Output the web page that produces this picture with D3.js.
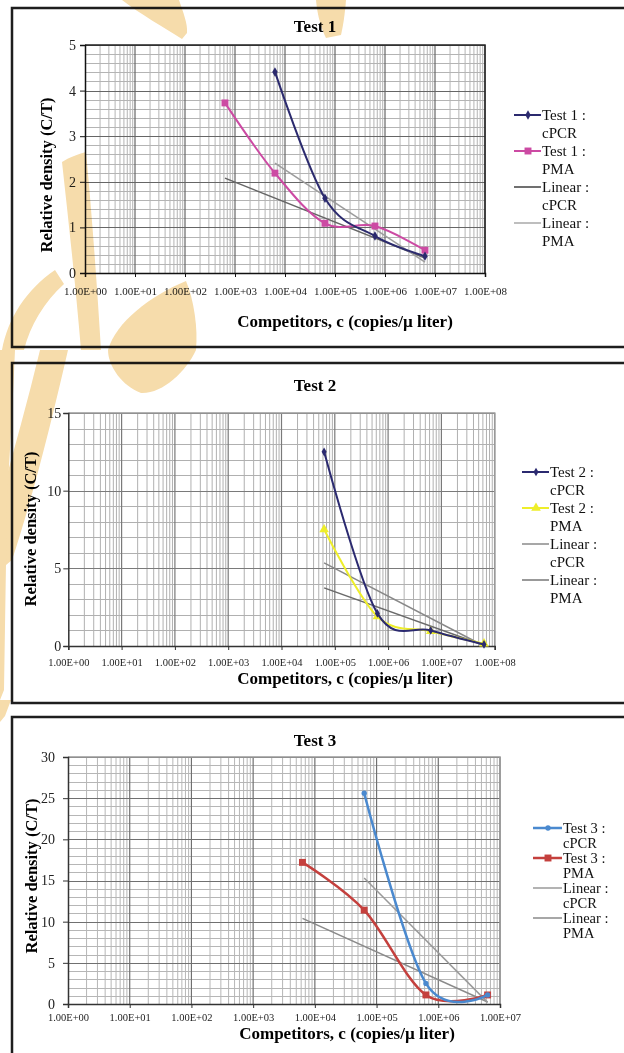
<!DOCTYPE html>
<html>
<head>
<meta charset="utf-8">
<script src="https://cdn.jsdelivr.net/npm/d3@7"></script>
<style>
  body { margin: 0; background: #fff; }
  svg { display: block; font-family: "Liberation Serif", "Times New Roman", serif; }
</style>
</head>
<body>
<script>
(function(){

    //---- data ----
    //Test 1
    var t1CpcrX = [6.3e3, 6.3e4, 6.3e5, 6.3e6];
    var t1CpcrY = [4.41, 1.64, 0.81, 0.37];
    var t1PmaX = [6.3e2, 6.3e3, 6.3e4, 6.3e5, 6.3e6];
    var t1PmaY = [3.73, 2.19, 1.09, 1.03, 0.50];
    var t1LinCpcrX = [6.3e3, 6.3e6];
    var t1LinCpcrY = [2.41, 0.24];
    var t1LinPmaX = [6.3e2, 6.3e6];
    var t1LinPmaY = [2.08, 0.33];

    //Test 2
    var t2CpcrX = [6.3e4, 6.3e5, 6.3e6, 6.3e7];
    var t2CpcrY = [12.5, 2.1, 1.0, 0.1];
    var t2PmaX = [6.3e4, 6.3e5, 6.3e6, 6.3e7];
    var t2PmaY = [7.5, 1.9, 0.95, 0.15];
    var t2LinCpcrX = [6.3e4, 6.3e7];
    var t2LinCpcrY = [5.35, 0.0];
    var t2LinPmaX = [6.3e4, 6.3e7];
    var t2LinPmaY = [3.74, 0.05];

    //Test 3
    var t3CpcrX = [6.3e4, 6.3e5, 6.3e6];
    var t3CpcrY = [25.6, 2.5, 1.1];
    var t3PmaX = [6.3e3, 6.3e4, 6.3e5, 6.3e6];
    var t3PmaY = [17.2, 11.4, 1.1, 1.1];
    var t3LinCpcrX = [6.3e4, 6.3e6];
    var t3LinCpcrY = [15.3, 0.2];
    var t3LinPmaX = [6.3e3, 6.3e6];
    var t3LinPmaY = [10.4, 0.25];

    //tick labels
    var xTickLabels8 = ["1.00E+00","1.00E+01","1.00E+02","1.00E+03","1.00E+04","1.00E+05","1.00E+06","1.00E+07","1.00E+08"];
    var xTickLabels7 = ["1.00E+00","1.00E+01","1.00E+02","1.00E+03","1.00E+04","1.00E+05","1.00E+06","1.00E+07"];
    var yTicks1 = [0, 1, 2, 3, 4, 5];
    var yTicks2 = [0, 5, 10, 15];
    var yTicks3 = [0, 5, 10, 15, 20, 25, 30];

    var xTitle = "Competitors, c (copies/\u00b5 liter)";
    var yTitle = "Relative density (C/T)";

    function zip(xs, ys){
        return xs.map(function(v, i){ return [v, ys[i]]; });
    }

    var svg = d3.select("body")
        .append("svg")
        .attr("width", 624)
        .attr("height", 1053);

    //panel configs
    var panels = [
        {
            title: "Test 1", boxY: 8, boxH: 339,
            left: 85, right: 485, top: 45, bottom: 273,
            decades: 8, ymax: 5, yTicks: yTicks1, minorStep: 0.2, xLabels: xTickLabels8,
            frame: "#222", majorColor: "#666", minorColor: "#b4b4b4", axisColor: "#111",
            tickFont: 11, xPad: 10, yTickSize: 5, yPad: 4, yFont: 14,
            titleX: 315, titleY: 32, xTitleX: 345, xTitleY: 327, yTitleX: 52, yTitleY: 175,
            legend: {x: 514, y: 115, textX: 542, line: 18, entry: 36, font: 15},
            series: [
                {data: zip(t1LinPmaX, t1LinPmaY), color: "#666", width: 1.5, trend: true},
                {data: zip(t1LinCpcrX, t1LinCpcrY), color: "#9c9c9c", width: 1.5, trend: true},
                {data: zip(t1PmaX, t1PmaY), color: "#cc4aa3", width: 2, sym: d3.symbolSquare, size: 48},
                {data: zip(t1CpcrX, t1CpcrY), color: "#2b2a6e", width: 2, sym: d3.symbolDiamond, size: 26}
            ],
            legendItems: [
                {l1: "Test 1 :", l2: "cPCR", color: "#2b2a6e", width: 2, sym: d3.symbolDiamond, size: 26},
                {l1: "Test 1 :", l2: "PMA", color: "#cc4aa3", width: 2, sym: d3.symbolSquare, size: 48},
                {l1: "Linear :", l2: "cPCR", color: "#707070", width: 2},
                {l1: "Linear :", l2: "PMA", color: "#a8a8a8", width: 1.5}
            ]
        },
        {
            title: "Test 2", boxY: 363, boxH: 340,
            left: 68.3, right: 494.7, top: 413, bottom: 646,
            decades: 8, ymax: 15, yTicks: yTicks2, minorStep: 1, xLabels: xTickLabels8,
            frame: "#999", majorColor: "#7a7a7a", minorColor: "#b0b0b0", axisColor: "#333",
            tickFont: 10.5, xPad: 9, yTickSize: 5, yPad: 2, yFont: 14,
            titleX: 315, titleY: 391, xTitleX: 345, xTitleY: 684, yTitleX: 36, yTitleY: 529,
            legend: {x: 522, y: 472, textX: 550, line: 18, entry: 36, font: 15},
            series: [
                {data: zip(t2LinCpcrX, t2LinCpcrY), color: "#888", width: 1.5, trend: true},
                {data: zip(t2LinPmaX, t2LinPmaY), color: "#6a6a6a", width: 1.5, trend: true},
                {data: zip(t2PmaX, t2PmaY), color: "#eeee2a", width: 2, sym: d3.symbolTriangle, size: 40},
                {data: zip(t2CpcrX, t2CpcrY), color: "#2b2a70", width: 2, sym: d3.symbolDiamond, size: 22}
            ],
            legendItems: [
                {l1: "Test 2 :", l2: "cPCR", color: "#2b2a70", width: 2, sym: d3.symbolDiamond, size: 22},
                {l1: "Test 2 :", l2: "PMA", color: "#eeee2a", width: 2, sym: d3.symbolTriangle, size: 40},
                {l1: "Linear :", l2: "cPCR", color: "#8a8a8a", width: 1.5},
                {l1: "Linear :", l2: "PMA", color: "#777", width: 1.5}
            ]
        },
        {
            title: "Test 3", boxY: 717, boxH: 360,
            left: 68, right: 500, top: 757, bottom: 1004,
            decades: 7, ymax: 30, yTicks: yTicks3, minorStep: 1, xLabels: xTickLabels7,
            frame: "#999", majorColor: "#707070", minorColor: "#b6b6b6", axisColor: "#333",
            tickFont: 10.5, xPad: 6, yTickSize: 5, yPad: 8, yFont: 14,
            titleX: 315, titleY: 746, xTitleX: 347, xTitleY: 1039, yTitleX: 37, yTitleY: 876,
            legend: {x: 533, y: 828, textX: 563, line: 15, entry: 30, font: 14.5},
            series: [
                {data: zip(t3LinPmaX, t3LinPmaY), color: "#8a8a8a", width: 1.5, trend: true},
                {data: zip(t3LinCpcrX, t3LinCpcrY), color: "#9a9a9a", width: 1.5, trend: true},
                {data: zip(t3PmaX, t3PmaY), color: "#c4403d", width: 2.5, sym: d3.symbolSquare, size: 48},
                {data: zip(t3CpcrX, t3CpcrY), color: "#4a89cf", width: 2.5, sym: d3.symbolCircle, size: 22}
            ],
            legendItems: [
                {l1: "Test 3 :", l2: "cPCR", color: "#4a89cf", width: 2.5, sym: d3.symbolCircle, size: 22},
                {l1: "Test 3 :", l2: "PMA", color: "#c4403d", width: 2.5, sym: d3.symbolSquare, size: 48},
                {l1: "Linear :", l2: "cPCR", color: "#9a9a9a", width: 1.5},
                {l1: "Linear :", l2: "PMA", color: "#8a8a8a", width: 1.5}
            ]
        }
    ];

    panels.forEach(drawPanel);
    drawWatermark();

    function drawPanel(p){
        var g = svg.append("g");

        //outer chart border
        g.append("rect")
            .attr("x", 12).attr("y", p.boxY)
            .attr("width", 640).attr("height", p.boxH)
            .attr("fill", "none")
            .attr("stroke", "#1e1e1e")
            .attr("stroke-width", 2.5);

        var x = d3.scaleLog()
            .domain([1, Math.pow(10, p.decades)])
            .range([p.left, p.right]);
        var y = d3.scaleLinear()
            .domain([0, p.ymax])
            .range([p.bottom, p.top]);

        //minor gridlines
        var minorX = [];
        for (var d = 0; d < p.decades; d++){
            for (var k = 2; k <= 9; k++) minorX.push(k * Math.pow(10, d));
        }
        var minorY = d3.range(0, p.ymax + 1e-9, p.minorStep);

        g.selectAll(".minorY").data(minorY).enter().append("line")
            .attr("x1", p.left).attr("x2", p.right)
            .attr("y1", function(v){ return Math.round(y(v)) + 0.5; })
            .attr("y2", function(v){ return Math.round(y(v)) + 0.5; })
            .attr("stroke", p.minorColor).attr("stroke-width", 1);

        g.selectAll(".minorX").data(minorX).enter().append("line")
            .attr("x1", function(v){ return x(v); })
            .attr("x2", function(v){ return x(v); })
            .attr("y1", p.top).attr("y2", p.bottom)
            .attr("stroke", p.minorColor).attr("stroke-width", 1);

        //major gridlines
        var decadeVals = d3.range(0, p.decades + 1).map(function(e){ return Math.pow(10, e); });
        g.selectAll(".majorX").data(decadeVals.slice(1)).enter().append("line")
            .attr("x1", function(v){ return x(v); })
            .attr("x2", function(v){ return x(v); })
            .attr("y1", p.top).attr("y2", p.bottom)
            .attr("stroke", p.majorColor).attr("stroke-width", 1.2);

        g.selectAll(".majorY").data(p.yTicks.slice(1)).enter().append("line")
            .attr("x1", p.left).attr("x2", p.right)
            .attr("y1", function(v){ return Math.round(y(v)) + 0.5; })
            .attr("y2", function(v){ return Math.round(y(v)) + 0.5; })
            .attr("stroke", p.majorColor).attr("stroke-width", 1.2);

        //plot frame (top and right)
        g.append("path")
            .attr("d", "M" + p.left + "," + p.top + "H" + p.right + "V" + p.bottom)
            .attr("fill", "none")
            .attr("stroke", p.frame)
            .attr("stroke-width", 1.5);

        //axes
        var yAxis = d3.axisLeft(y)
            .tickValues(p.yTicks)
            .tickSize(p.yTickSize)
            .tickPadding(p.yPad)
            .tickFormat(d3.format("d"));
        var ya = g.append("g")
            .attr("transform", "translate(" + p.left + ",0)")
            .call(yAxis);
        ya.selectAll("text").attr("font-size", p.yFont).attr("fill", "#222")
            .attr("font-family", "Liberation Serif");

        var xAxis = d3.axisBottom(x)
            .tickValues(decadeVals)
            .tickSize(4)
            .tickPadding(p.xPad)
            .tickFormat(function(v, i){ return p.xLabels[i]; });
        var xa = g.append("g")
            .attr("transform", "translate(0," + p.bottom + ")")
            .call(xAxis);
        xa.selectAll("text").attr("font-size", p.tickFont).attr("fill", "#222")
            .attr("font-family", "Liberation Serif");

        [ya, xa].forEach(function(a){
            a.select(".domain").attr("stroke", p.axisColor).attr("stroke-width", 1.5);
            a.selectAll(".tick line").attr("stroke", p.axisColor);
        });

        //series
        var smooth = d3.line()
            .x(function(d){ return x(d[0]); })
            .y(function(d){ return y(d[1]); })
            .curve(d3.curveCardinal.tension(0));
        var straight = d3.line()
            .x(function(d){ return x(d[0]); })
            .y(function(d){ return y(d[1]); });

        p.series.forEach(function(s){
            g.append("path")
                .datum(s.data)
                .attr("d", s.trend ? straight : smooth)
                .attr("fill", "none")
                .attr("stroke", s.color)
                .attr("stroke-width", s.width);
            if (s.sym){
                g.selectAll(null).data(s.data).enter().append("path")
                    .attr("d", d3.symbol().type(s.sym).size(s.size))
                    .attr("transform", function(d){ return "translate(" + x(d[0]) + "," + y(d[1]) + ")"; })
                    .attr("fill", s.color);
            }
        });

        //titles
        g.append("text")
            .attr("x", p.titleX).attr("y", p.titleY)
            .attr("text-anchor", "middle")
            .attr("font-weight", "bold").attr("font-size", 17)
            .text(p.title);
        g.append("text")
            .attr("x", p.xTitleX).attr("y", p.xTitleY)
            .attr("text-anchor", "middle")
            .attr("font-weight", "bold").attr("font-size", 17)
            .text(xTitle);
        g.append("text")
            .attr("transform", "translate(" + p.yTitleX + "," + p.yTitleY + ") rotate(-90)")
            .attr("text-anchor", "middle")
            .attr("font-weight", "bold").attr("font-size", 16.5)
            .text(yTitle);

        //legend
        var L = p.legend;
        p.legendItems.forEach(function(it, i){
            var cy = L.y + i * L.entry;
            g.append("line")
                .attr("x1", L.x).attr("x2", L.textX - 1)
                .attr("y1", cy).attr("y2", cy)
                .attr("stroke", it.color).attr("stroke-width", it.width);
            if (it.sym){
                g.append("path")
                    .attr("d", d3.symbol().type(it.sym).size(it.size))
                    .attr("transform", "translate(" + ((L.x + L.textX) / 2) + "," + cy + ")")
                    .attr("fill", it.color);
            }
            var t = g.append("text")
                .attr("font-size", L.font)
                .attr("fill", "#111");
            t.append("tspan").attr("x", L.textX).attr("y", cy).attr("dy", "0.35em").text(it.l1);
            t.append("tspan").attr("x", L.textX).attr("y", cy + L.line).attr("dy", "0.35em").text(it.l2);
        });
    }

    //faint publisher watermark that lies over the left side of the reference
    function drawWatermark(){
        var shapes = [
            "M122,0 L179,0 C183,12 188,24 187,33 L182,39 C165,28 140,14 122,0 Z",
            "M316,0 L346,0 C345,14 343,26 341,35 L326,38 C320,26 317,12 316,0 Z",
            "M62,162 C70,157 78,154 86,152 C92,215 97,285 101,350 L81,350 C76,290 69,225 62,162 Z",
            "M2,350 C8,318 26,290 55,270 L64,284 C44,302 30,326 24,350 Z",
            "M186,281 C194,300 198,328 196,350 C186,372 162,394 141,393 C122,386 108,366 108,350 C116,322 150,296 186,281 Z",
            "M40,350 L68,350 C52,420 32,500 12,560 L0,570 L0,500 C14,450 28,400 40,350 Z",
            "M0,350 L15,350 C13,400 10,450 7,500 L4,690 L0,700 Z",
            "M0,700 L11,700 L5,716 L0,722 Z"
        ];
        svg.append("g")
            .style("mix-blend-mode", "multiply")
            .selectAll("path").data(shapes).enter().append("path")
            .attr("d", function(d){ return d; })
            .attr("fill", "#f6dcab");
    }

})();
</script>
</body>
</html>
